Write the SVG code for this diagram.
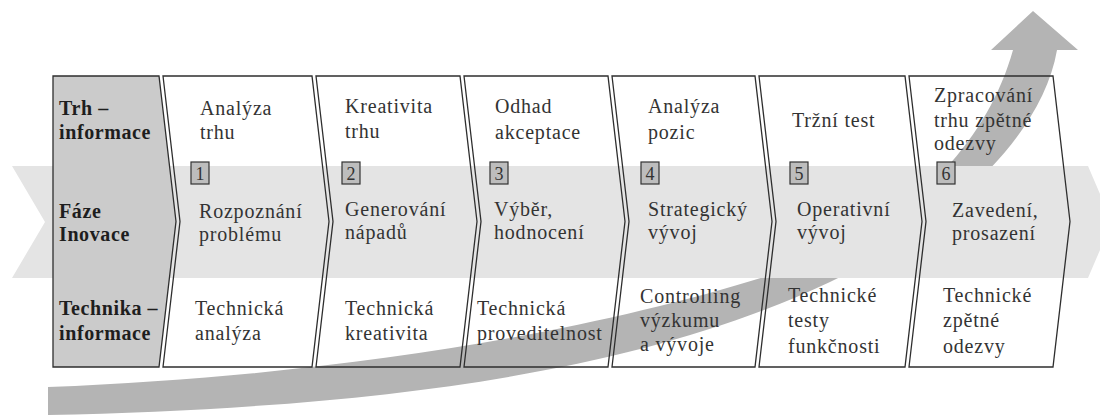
<svg xmlns="http://www.w3.org/2000/svg" width="1100" height="415" viewBox="0 0 1100 415" font-family="'Liberation Serif', Tinos, 'Times New Roman', Times, 'Nimbus Roman', 'Nimbus Roman No9 L', FreeSerif, 'DejaVu Serif', 'Noto Serif', serif">
<style>
.cell{fill:none;stroke:#2e2e2e;stroke-width:1.3}
.lab{fill:#cbcbcb;stroke:#2e2e2e;stroke-width:1.3}
.t{font-size:20px;letter-spacing:0.8px;fill:#333}
.b{font-size:20px;font-weight:bold;letter-spacing:0.6px;fill:#1e1e1e}
.num{fill:#bdbdbd;stroke:#333;stroke-width:1.2}
.n{font-size:18px;fill:#333;text-anchor:middle}
</style>
<rect width="1100" height="415" fill="#ffffff"/>
<g id="flows">
  <path id="growth-arrow" d="M48,387 C350,375 600,330 780,272 C900,232 985,150 1013,50 L991,50 L1033,11 L1078,50 L1057,50 C1040,150 920,240 830,282 C640,372 380,408 48,415 Z" fill="#b4b4b4"/>
  <path id="phase-band" d="M12,166 L1088,166 L1112,222 L1088,278 L12,278 L45,222 Z" fill="#e4e4e4"/>
</g>
<g id="labels">
  <path class="lab" d="M53,76 L159,76 L176,221.5 L159,367 L53,367 Z"/>
  <text class="b" x="59" y="115">Trh –</text>
  <text class="b" x="59" y="139">informace</text>
  <text class="b" x="59" y="218">Fáze</text>
  <text class="b" x="59" y="241">Inovace</text>
  <text class="b" x="59" y="315">Technika –</text>
  <text class="b" x="59" y="340">informace</text>
</g>
<g id="phase1">
  <path class="cell" d="M163,76 L312,76 L329,221.5 L312,367 L163,367 L180,221.5 Z"/>
  <text class="t" x="200" y="115">Analýza</text>
  <text class="t" x="200" y="139">trhu</text>
  <rect class="num" x="191" y="162" width="18" height="22"/>
  <text class="n" x="200" y="180">1</text>
  <text class="t" x="199" y="218">Rozpoznání</text>
  <text class="t" x="199" y="241">problému</text>
  <text class="t" x="195" y="315">Technická</text>
  <text class="t" x="195" y="340">analýza</text>
</g>
<g id="phase2">
  <path class="cell" d="M316,76 L460,76 L477,221.5 L460,367 L316,367 L333,221.5 Z"/>
  <text class="t" x="345" y="113">Kreativita</text>
  <text class="t" x="345" y="138">trhu</text>
  <rect class="num" x="342" y="162" width="18" height="22"/>
  <text class="n" x="351" y="180">2</text>
  <text class="t" x="345" y="216">Generování</text>
  <text class="t" x="345" y="239">nápadů</text>
  <text class="t" x="345" y="315">Technická</text>
  <text class="t" x="345" y="340">kreativita</text>
</g>
<g id="phase3">
  <path class="cell" d="M464,76 L608,76 L625,221.5 L608,367 L464,367 L481,221.5 Z"/>
  <text class="t" x="495" y="113">Odhad</text>
  <text class="t" x="495" y="139">akceptace</text>
  <rect class="num" x="490" y="162" width="18" height="22"/>
  <text class="n" x="499" y="180">3</text>
  <text class="t" x="494" y="216">Výběr,</text>
  <text class="t" x="494" y="239">hodnocení</text>
  <text class="t" x="477" y="315">Technická</text>
  <text class="t" x="477" y="340">proveditelnost</text>
</g>
<g id="phase4">
  <path class="cell" d="M612,76 L755,76 L772,221.5 L755,367 L612,367 L629,221.5 Z"/>
  <text class="t" x="648" y="113">Analýza</text>
  <text class="t" x="648" y="139">pozic</text>
  <rect class="num" x="641" y="162" width="18" height="22"/>
  <text class="n" x="650" y="180">4</text>
  <text class="t" x="648" y="216">Strategický</text>
  <text class="t" x="648" y="239">vývoj</text>
  <text class="t" x="640" y="303">Controlling</text>
  <text class="t" x="640" y="327">výzkumu</text>
  <text class="t" x="640" y="351">a vývoje</text>
</g>
<g id="phase5">
  <path class="cell" d="M759,76 L905,76 L922,221.5 L905,367 L759,367 L776,221.5 Z"/>
  <text class="t" x="792" y="127">Tržní test</text>
  <rect class="num" x="790" y="162" width="18" height="22"/>
  <text class="n" x="799" y="180">5</text>
  <text class="t" x="797" y="216">Operativní</text>
  <text class="t" x="797" y="239">vývoj</text>
  <text class="t" x="788" y="302">Technické</text>
  <text class="t" x="788" y="327">testy</text>
  <text class="t" x="788" y="353">funkčnosti</text>
</g>
<g id="phase6">
  <path class="cell" d="M909,76 L1053,76 L1070,221.5 L1053,367 L909,367 L926,221.5 Z"/>
  <text class="t" x="934" y="102">Zpracování</text>
  <text class="t" x="934" y="127">trhu zpětné</text>
  <text class="t" x="934" y="150">odezvy</text>
  <rect class="num" x="937" y="162" width="18" height="22"/>
  <text class="n" x="946" y="180">6</text>
  <text class="t" x="952" y="217">Zavedení,</text>
  <text class="t" x="952" y="240">prosazení</text>
  <text class="t" x="943" y="302">Technické</text>
  <text class="t" x="943" y="327">zpětné</text>
  <text class="t" x="943" y="353">odezvy</text>
</g>
</svg>
